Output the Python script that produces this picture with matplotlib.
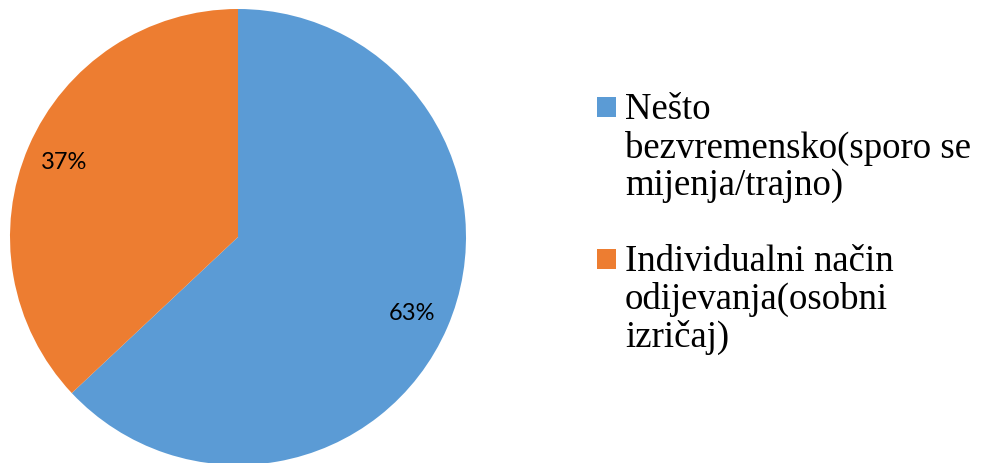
import matplotlib.pyplot as plt
from matplotlib.patches import Rectangle

# Data
labels = ["Nešto\nbezvremensko(sporo se\nmijenja/trajno)",
          "Individualni način\nodijevanja(osobni\nizričaj)"]
values = [63, 37]
colors = ["#5B9BD5", "#ED7D31"]

W, H = 982, 464
fig = plt.figure(figsize=(W / 100, H / 100), dpi=100)

# pie area in pixels: left 10, top 10, diameter 456
ax = fig.add_axes([10 / W, (H - 10 - 456) / H, 456 / W, 456 / H])
wedges, texts, autotexts = ax.pie(
    values, colors=colors, startangle=90, counterclock=False,
    autopct="%1.0f%%", pctdistance=0.83, radius=1,
    wedgeprops=dict(linewidth=0),
    textprops=dict(fontsize=17, family="Lato", color="black"))
ax.set_xlim(-1, 1)
ax.set_ylim(-1, 1)
ax.axis("off")

# legend drawn by hand so the square sits next to the first line
first_base = [120, 272]  # baseline of first line, pixels from top
last_base = [195, 347]   # baseline of last line (text anchor)
for i, lab in enumerate(labels):
    y = first_base[i]
    fig.patches.append(Rectangle((597 / W, (H - y + 2) / H), 19 / W, 20 / H,
                                 transform=fig.transFigure,
                                 facecolor=wedges[i].get_facecolor(),
                                 edgecolor="none"))
    fig.text(625 / W, (H - last_base[i]) / H, lab, ha="left", va="baseline",
             fontsize=26.5, family="Liberation Serif", linespacing=1.11,
             color="black")

fig.savefig("out.png", dpi=100)
